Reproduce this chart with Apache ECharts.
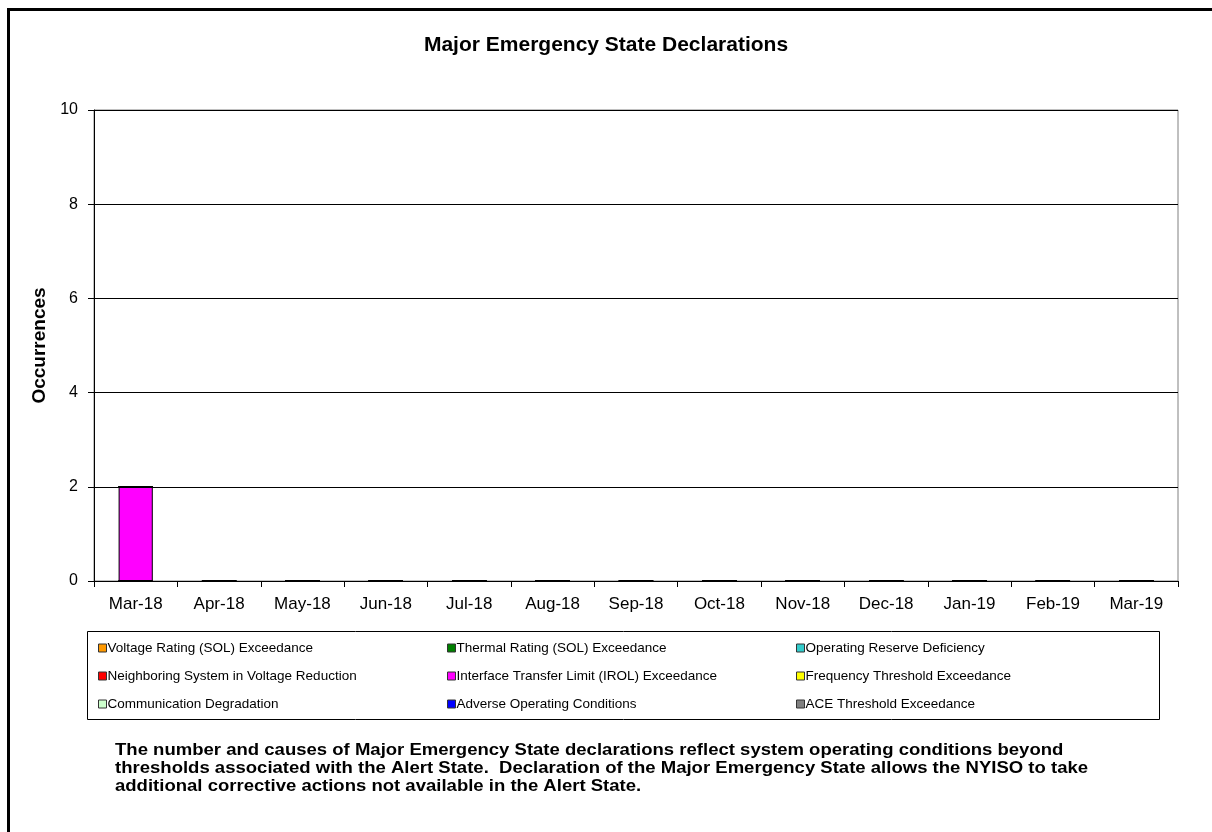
<!DOCTYPE html>
<html>
<head>
<meta charset="utf-8">
<title>Major Emergency State Declarations</title>
<script src="https://cdn.jsdelivr.net/npm/echarts@6/dist/echarts.min.js"></script>
<style>
  html, body { margin: 0; padding: 0; background: #fff; }
  #chart { width: 1212px; height: 832px; }
</style>
</head>
<body>
<div id="chart"></div>
<script>
// months on the x axis
var months = ['Mar-18', 'Apr-18', 'May-18', 'Jun-18', 'Jul-18', 'Aug-18', 'Sep-18',
  'Oct-18', 'Nov-18', 'Dec-18', 'Jan-19', 'Feb-19', 'Mar-19'];

// causes, in legend order (row by row)
var causes = [
  'Voltage Rating (SOL) Exceedance', 'Thermal Rating (SOL) Exceedance', 'Operating Reserve Deficiency',
  'Neighboring System in Voltage Reduction', 'Interface Transfer Limit (IROL) Exceedance', 'Frequency Threshold Exceedance',
  'Communication Degradation', 'Adverse Operating Conditions', 'ACE Threshold Exceedance'
];
var causeColors = ['#FF9900', '#008000', '#33CCCC', '#FF0000', '#FF00FF', '#FFFF00', '#CCFFCC', '#0000FF', '#808080'];

// occurrences per month for each cause
var voltageRating   = [0, 0, 0, 0, 0, 0, 0, 0, 0, 0, 0, 0, 0];
var thermalRating   = [0, 0, 0, 0, 0, 0, 0, 0, 0, 0, 0, 0, 0];
var reserveDef      = [0, 0, 0, 0, 0, 0, 0, 0, 0, 0, 0, 0, 0];
var neighboring     = [0, 0, 0, 0, 0, 0, 0, 0, 0, 0, 0, 0, 0];
var interfaceIROL   = [2, 0, 0, 0, 0, 0, 0, 0, 0, 0, 0, 0, 0];
var frequency       = [0, 0, 0, 0, 0, 0, 0, 0, 0, 0, 0, 0, 0];
var communication   = [0, 0, 0, 0, 0, 0, 0, 0, 0, 0, 0, 0, 0];
var adverse         = [0, 0, 0, 0, 0, 0, 0, 0, 0, 0, 0, 0, 0];
var aceThreshold    = [0, 0, 0, 0, 0, 0, 0, 0, 0, 0, 0, 0, 0];
var seriesValues = [voltageRating, thermalRating, reserveDef, neighboring, interfaceIROL,
  frequency, communication, adverse, aceThreshold];

var yTicks = [0, 2, 4, 6, 8, 10];

var note = 'The number and causes of Major Emergency State declarations reflect system operating conditions beyond\n' +
  'thresholds associated with the Alert State.  Declaration of the Major Emergency State allows the NYISO to take\n' +
  'additional corrective actions not available in the Alert State.';

var font = 'Arial, "Liberation Sans", sans-serif';
var chart = echarts.init(document.getElementById('chart'));

// three legend columns, each holding every third cause
var colX = [93, 442, 791];
var legends = colX.map(function(x, c) {
  return {
    orient: 'vertical', left: x, top: 636,
    data: [causes[c], causes[c + 3], causes[c + 6]],
    icon: 'rect', itemWidth: 8, itemHeight: 8, itemGap: 14,
    selectedMode: false,
    itemStyle: { borderColor: '#333', borderWidth: 1 },
    textStyle: { fontFamily: font, fontSize: 13.5, lineHeight: 14, color: '#000', padding: [0, 0, 0, -4] }
  };
});

chart.setOption({
  animation: false,
  backgroundColor: '#fff',
  title: {
    text: 'Major Emergency State Declarations',
    left: 'center', top: 30,
    textStyle: { fontFamily: font, fontSize: 21, fontWeight: 'bold', color: '#000' }
  },
  legend: legends,
  grid: {
    left: 94, right: 34, top: 110, bottom: 251,
    show: true, borderColor: '#808080', borderWidth: 1
  },
  xAxis: {
    type: 'category', data: months,
    axisLine: { lineStyle: { color: '#000', width: 1 } },
    axisTick: { show: true, length: 6, alignWithLabel: false, lineStyle: { color: '#000' } },
    axisLabel: { fontFamily: font, fontSize: 17, color: '#000', margin: 15 }
  },
  yAxis: {
    type: 'value', min: yTicks[0], max: yTicks[yTicks.length - 1], interval: 2,
    name: 'Occurrences', nameLocation: 'middle', nameGap: 42, nameRotate: 90,
    nameTextStyle: { fontFamily: font, fontSize: 19, fontWeight: 'bold', color: '#000' },
    axisLine: { show: true, lineStyle: { color: '#000', width: 1 } },
    axisTick: { show: true, length: 6, lineStyle: { color: '#000' } },
    axisLabel: { fontFamily: font, fontSize: 16, color: '#000', margin: 16 },
    splitLine: { lineStyle: { color: '#000', width: 1 } }
  },
  series: causes.map(function(name, i) {
    return {
      name: name, type: 'bar', stack: 'all', barWidth: '41%',
      data: seriesValues[i],
      itemStyle: { color: causeColors[i], borderColor: '#000', borderWidth: 1 }
    };
  }),
  graphic: [
    { type: 'rect', shape: { x: 8.5, y: 9.5, width: 1400, height: 1000 },
      style: { fill: 'none', stroke: '#000', lineWidth: 3 }, silent: true },
    { type: 'rect', shape: { x: 87.5, y: 631.5, width: 1072, height: 88 },
      style: { fill: 'none', stroke: '#000', lineWidth: 1 }, silent: true, z: -1 },
    { type: 'text', x: 115, y: 741, scaleX: 1.09,
      style: { text: note, fontFamily: font, fontSize: 17, fontWeight: 'bold', fill: '#000', lineHeight: 18 } }
  ]
});
</script>
</body>
</html>
